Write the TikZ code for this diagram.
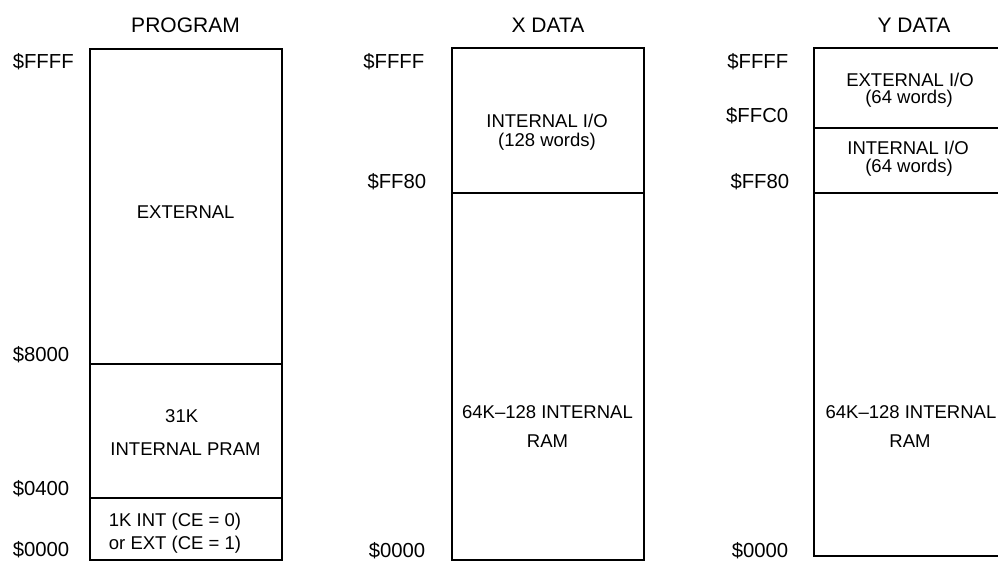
\documentclass[tikz,border=0pt]{standalone}
\usepackage{fontspec}
\setmainfont{Liberation Sans}
\begin{document}
\begin{tikzpicture}[x=1pt,y=-1pt,line width=1.6pt,inner sep=0pt,
  title/.style={anchor=base,font=\fontsize{21}{25}\selectfont},
  addr/.style={anchor=base west,font=\fontsize{20.3}{24}\selectfont},
  raddr/.style={anchor=base east,font=\fontsize{20.3}{24}\selectfont},
  txt/.style={anchor=base,font=\fontsize{18.5}{22}\selectfont}]
\useasboundingbox (0,0) rectangle (998,561);
\clip (0,0) rectangle (998,561);
% program space
\node[title] (tprog) at (185.5,32.3) {PROGRAM};
\draw (90,49) rectangle (282,560);
\draw (90,364) -- (282,364);
\draw (90,498) -- (282,498);
\node[addr] (pffff) at (12,68.3) {\$FFFF};
\node[addr] (p8000) at (12,361.7) {\$8000};
\node[addr] (p0400) at (12,495) {\$0400};
\node[addr] (p0000) at (12,556.7) {\$0000};
\node[txt] (pext) at (185.7,218.3) {EXTERNAL};
\node[txt] (p31k) at (181.7,422.7) {31K};
\node[txt] (ppram) at (185.5,455) {INTERNAL PRAM};
\node[txt] (p1k) at (175,526) {1K INT (CE = 0)};
\node[txt] (pextce) at (175,549.3) {or EXT (CE = 1)};
% x data space
\node[title] (txdata) at (548,32.3) {X DATA};
\draw (452,48) rectangle (644,560);
\draw (452,193) -- (644,193);
\node[raddr] (xffff) at (425,68.3) {\$FFFF};
\node[raddr] (xff80) at (427,188.3) {\$FF80};
\node[raddr] (x0000) at (426,557) {\$0000};
\node[txt] (xio) at (547,127.7) {INTERNAL I/O};
\node[txt] (xio128) at (547,146.7) {(128 words)};
\node[txt] (xram) at (547.5,418.3) {64K--128 INTERNAL};
\node[txt] (xram2) at (547.5,447.3) {RAM};
% y data space
\node[title] (tydata) at (914,32.3) {Y DATA};
\draw (1010,48) -- (814,48) -- (814,556) -- (1010,556);
\draw (814,128) -- (1010,128);
\draw (814,193) -- (1010,193);
\node[raddr] (yffff) at (789,68.3) {\$FFFF};
\node[raddr] (yffc0) at (789,122.7) {\$FFC0};
\node[raddr] (yff80) at (790,188.3) {\$FF80};
\node[raddr] (y0000) at (789,557) {\$0000};
\node[txt] (yext) at (910,86.5) {EXTERNAL I/O};
\node[txt] (yext64) at (909,104) {(64 words)};
\node[txt] (yio) at (908,154.5) {INTERNAL I/O};
\node[txt] (yio64) at (909,172.5) {(64 words)};
\node[txt] (yram) at (911,418.3) {64K--128 INTERNAL};
\node[txt] (yram2) at (910,447.3) {RAM};
\end{tikzpicture}
\end{document}
